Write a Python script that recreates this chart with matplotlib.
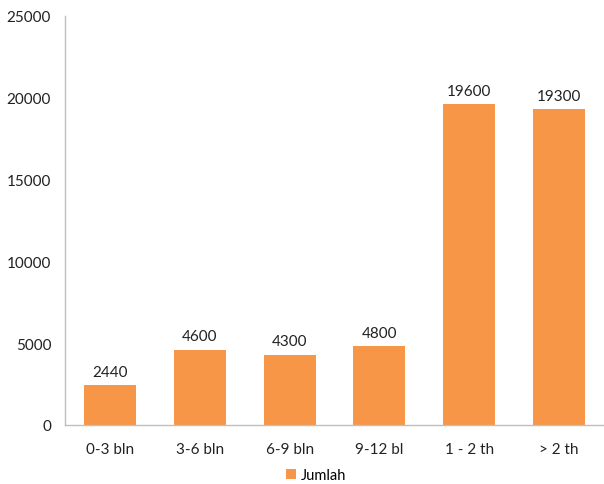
import matplotlib.pyplot as plt

kategori = ['0-3 bln', '3-6 bln', '6-9 bln', '9-12 bl', '1 - 2 th', '> 2 th']
jumlah = [2440, 4600, 4300, 4800, 19600, 19300]
yticks = [0, 5000, 10000, 15000, 20000, 25000]

plt.rcParams['font.family'] = ['Lato', 'DejaVu Sans']

fig = plt.figure(figsize=(6.04, 4.85), dpi=100)
ax = fig.add_axes([65/604, 1-426/485, 1-65/604, (426-17)/485])

x = list(range(len(kategori)))
bars = ax.bar(x, jumlah, width=52/90, color='#F79646', label='Jumlah')

for xi, v in zip(x, jumlah):
    ax.text(xi, v + 400, str(v), ha='center', va='bottom', fontsize=11, color='#222222')

ax.set_xlim(-0.5, len(kategori) - 0.5)
ax.set_ylim(0, 25000)
ax.set_yticks(yticks)
ax.set_yticklabels([str(t) for t in yticks], fontsize=11, color='#222222')
ax.set_xticks(x)
ax.set_xticklabels(kategori, fontsize=11, color='#222222')
ax.tick_params(axis='x', length=0, pad=12)
ax.tick_params(axis='y', length=0, pad=10)

for s in ['top', 'right']:
    ax.spines[s].set_visible(False)
for s in ['left', 'bottom']:
    ax.spines[s].set_color('#BFBFBF')
    ax.spines[s].set_linewidth(1)

fig.legend(handles=[bars], labels=['Jumlah'], loc='center', bbox_to_anchor=(316/604, 1-476/485),
           frameon=False, fontsize=10.5, handlelength=0.7, handleheight=0.7, handletextpad=0.3)

fig.savefig('out.png', dpi=100)
